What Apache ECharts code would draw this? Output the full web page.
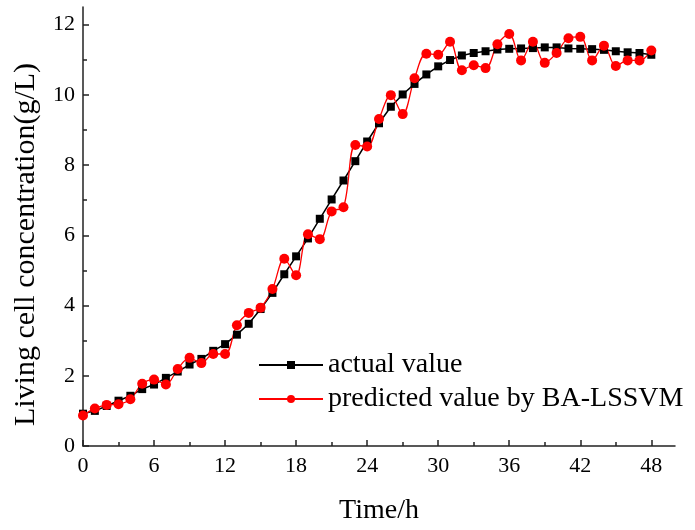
<!DOCTYPE html>
<html>
<head>
<meta charset="utf-8">
<script src="https://cdn.jsdelivr.net/npm/echarts@6/dist/echarts.min.js"></script>
<style>
html,body{margin:0;padding:0;background:#fff;}
#chart{width:695px;height:530px;}
</style>
</head>
<body>
<div id="chart"></div>
<script>
const timeH = [0,1,2,3,4,5,6,7,8,9,10,11,12,13,14,15,16,17,18,19,20,21,22,23,24,25,26,27,28,29,30,31,32,33,34,35,36,37,38,39,40,41,42,43,44,45,46,47,48];
const actualValue = [0.92,1.00,1.14,1.29,1.43,1.62,1.75,1.94,2.12,2.32,2.48,2.71,2.90,3.17,3.48,3.90,4.36,4.89,5.40,5.91,6.47,7.02,7.56,8.11,8.67,9.19,9.66,10.01,10.31,10.58,10.81,10.99,11.12,11.19,11.24,11.29,11.31,11.32,11.33,11.35,11.35,11.32,11.31,11.30,11.28,11.24,11.21,11.19,11.14];
const predictedValue = [0.87,1.07,1.17,1.19,1.33,1.77,1.89,1.75,2.19,2.51,2.36,2.62,2.62,3.44,3.79,3.94,4.47,5.33,4.86,6.03,5.89,6.68,6.80,8.57,8.53,9.31,9.99,9.45,10.47,11.17,11.14,11.51,10.70,10.84,10.76,11.44,11.73,10.98,11.51,10.91,11.19,11.61,11.65,10.98,11.40,10.82,10.98,10.98,11.26];
const xTicks = [0,6,12,18,24,30,36,42,48];
const xMinorTicks = [3,9,15,21,27,33,39,45];
const yTicks = [0,2,4,6,8,10,12];
const yMinorTicks = [1,3,5,7,9,11];
const seriesNames = ['actual value','predicted value by BA-LSSVM'];

const FONT = '"Liberation Serif","Times New Roman",serif';
const AX = '#222';

const chart = echarts.init(document.getElementById('chart'), null, {renderer:'canvas'});
chart.setOption({
  animation: false,
  backgroundColor: '#fff',
  grid: {left: 83, right: 20, top: 7, bottom: 73, containLabel: false},
  legend: {
    orient: 'vertical', left: 253, top: 346,
    itemWidth: 64, itemHeight: 10, itemGap: 6,
    textStyle: {fontSize: 28, fontFamily: FONT, color: '#000'},
    data: seriesNames
  },
  xAxis: [{
    type: 'value', min: 0, max: 50, position: 'bottom',
    name: 'Time/h', nameLocation: 'middle', nameGap: 51,
    nameTextStyle: {fontSize: 28, fontFamily: FONT, color: '#000'},
    axisLine: {show: true, lineStyle: {color: AX, width: 1.5}},
    axisTick: {show: true, inside: true, length: 6, customValues: xTicks, lineStyle: {color: AX, width: 1.5}},
    axisLabel: {show: true, customValues: xTicks, margin: 9, fontSize: 22, fontFamily: FONT, color: '#000'},
    splitLine: {show: false}
  }, {
    type: 'value', min: 0, max: 50, position: 'bottom',
    axisLine: {show: false},
    axisTick: {show: true, inside: true, length: 4, customValues: xMinorTicks, lineStyle: {color: AX, width: 1.5}},
    axisLabel: {show: false},
    splitLine: {show: false}
  }],
  yAxis: [{
    type: 'value', min: 0, max: 12.5, position: 'left',
    name: 'Living cell concentration(g/L)', nameLocation: 'middle', nameGap: 42, nameRotate: 90,
    nameTextStyle: {fontSize: 30, fontFamily: FONT, color: '#000', padding: [0, 36, 0, 0]},
    axisLine: {show: true, lineStyle: {color: AX, width: 1.5}},
    axisTick: {show: true, inside: true, length: 6, customValues: yTicks, lineStyle: {color: AX, width: 1.5}},
    axisLabel: {show: true, customValues: yTicks, margin: 8, fontSize: 22, fontFamily: FONT, color: '#000'},
    splitLine: {show: false}
  }, {
    type: 'value', min: 0, max: 12.5, position: 'left',
    axisLine: {show: false},
    axisTick: {show: true, inside: true, length: 4, customValues: yMinorTicks, lineStyle: {color: AX, width: 1.5}},
    axisLabel: {show: false},
    splitLine: {show: false}
  }],
  series: [{
    name: seriesNames[0], type: 'line', xAxisIndex: 0, yAxisIndex: 0,
    data: timeH.map((t, i) => [t, actualValue[i]]),
    symbol: 'rect', symbolSize: 8,
    itemStyle: {color: '#000'},
    lineStyle: {color: '#000', width: 1.5}
  }, {
    name: seriesNames[1], type: 'line', xAxisIndex: 0, yAxisIndex: 0,
    data: timeH.map((t, i) => [t, predictedValue[i]]),
    symbol: 'circle', symbolSize: 10, smooth: 0.35,
    itemStyle: {color: '#ff0000'},
    lineStyle: {color: '#ff0000', width: 1.3}
  }]
});
</script>
</body>
</html>
